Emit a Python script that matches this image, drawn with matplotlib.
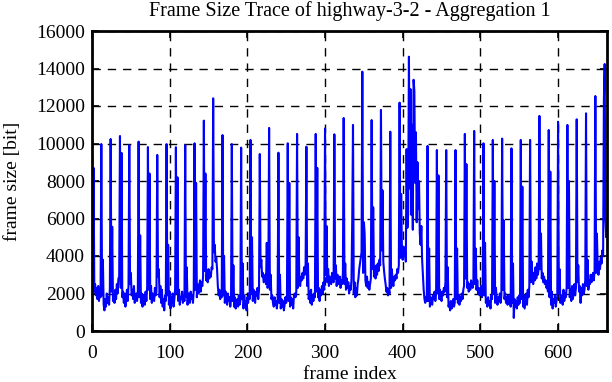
import numpy as np
import matplotlib
matplotlib.use("Agg")
import matplotlib.pyplot as plt

# frame sizes [bit], one row per GOP of 12 frames (I frame first)
seg_000 = [
    9400, 2500, 8700, 2100, 2500, 1900, 2300, 1700, 2400, 1600, 2200, 1800,
    9970, 1900, 3800, 1400, 1100, 1700, 1300, 2000, 1500, 1800, 1400, 2300,
    10240, 2100, 5560, 1600, 1900, 1500, 2200, 1700, 2500, 2000, 2800, 2900,
    10400, 2300, 9500, 1800, 2100, 1500, 2000, 1300, 1700, 2200, 1600, 2400,
    9920, 2500, 3100, 1900, 2200, 1700, 2400, 1500, 1800, 2000, 1600, 2100,
    10100, 1800, 5100, 1500, 2000, 1300, 1700, 1900, 1400, 2100, 1600, 2300,
    9810, 2200, 8400, 1700, 2400, 1500, 2000, 1800, 1600, 2300, 1900, 2100,
    9390, 2900, 3300, 1800, 2400, 1500, 2200, 1300, 1700, 1100, 1900, 1600,
    9970, 1900, 4600, 1400, 2100, 1200, 1800, 1500, 2000, 1300, 1700, 2200,
    9800, 2000, 8200, 1600, 2200, 1400, 1800, 1700, 2100, 1500, 1900, 1600,
]
seg_120 = [
    9920, 1800, 3400, 1400, 2000, 1600, 1500, 2100, 1700, 1900, 1500, 2200,
    10010, 2200, 7900, 1800, 2500, 2000, 2300, 2700, 2100, 2600, 2400, 2900,
    11220, 3200, 8400, 2700, 3000, 2600, 3300, 2800, 3100, 2900, 3400, 3300,
    12410, 4200, 4600, 3700, 3900, 3300, 2400, 1900, 2200, 1700, 2000, 1800,
    10450, 1900, 4000, 1500, 2100, 1700, 1400, 2000, 1600, 1800, 1300, 1700,
    9970, 1600, 3500, 1300, 1800, 1200, 1500, 1700, 1300, 1900, 1400, 1600,
    9780, 1700, 3600, 1200, 1900, 1400, 1600, 1100, 1800, 1500, 2000, 1700,
    10190, 2000, 5000, 1600, 2200, 1800, 1500, 2100, 1900, 2300, 1700, 2200,
    9440, 3400, 3800, 2900, 3100, 2600, 2800, 3000, 2500, 4700, 2300, 2600,
    10830, 2200, 3000, 1700, 1900, 1500, 1300, 1800, 1400, 1600, 1200, 1700,
]
seg_240 = [
    9510, 1500, 3000, 1200, 1700, 1300, 1600, 1100, 1400, 1800, 1500, 1900,
    10010, 1600, 7900, 1300, 1800, 1400, 1700, 1200, 1900, 2000, 1800, 2100,
    10510, 2300, 5000, 2600, 2400, 2900, 2700, 3100, 2800, 3400, 3000, 3600,
    9830, 2400, 3600, 1700, 2100, 1500, 2200, 1400, 1900, 1600, 2000, 1800,
    10510, 2100, 8700, 1800, 2300, 1600, 2200, 1900, 2400, 2000, 2600, 2200,
    10800, 3000, 5600, 2600, 3300, 2400, 2900, 2700, 2500, 3100, 2800, 2600,
    10490, 2800, 3500, 2400, 3000, 2500, 2600, 2900, 2300, 2700, 2500, 3100,
    11360, 2500, 3600, 2200, 2800, 2300, 2600, 2000, 2400, 2200, 2700, 5800,
    10990, 2000, 2600, 1800, 2300, 1900, 2500, 2800, 3300, 3600, 3900, 4200,
    13830, 3100, 5800, 5200, 2700, 2400, 2900, 2300, 2600, 2200, 2500, 2800,
]
seg_360 = [
    11250, 3300, 6600, 2900, 3400, 2800, 3500, 3000, 3600, 3200, 3800, 3500,
    11790, 4300, 7500, 3700, 3200, 2800, 2500, 2100, 2300, 1900, 2200, 2000,
    10630, 2300, 3300, 2600, 2400, 2900, 2700, 3000, 2800, 3300, 3100, 3500,
    12180, 3900, 7300, 4300, 3800, 4500, 4000, 4200, 3700, 9700, 5500, 6200,
    14630, 7600, 12900, 6200, 11000, 5400, 13400, 12800, 7900, 10600, 5800, 9000,
    6500, 8000, 5200, 4600, 5600, 3800, 3000, 2200, 1700, 1500, 1800, 1600,
    9870, 1600, 4400, 1300, 1800, 1500, 1400, 1900, 1700, 2100, 1600, 2000,
    9650, 2000, 8300, 1700, 2200, 1800, 1600, 2100, 1900, 2300, 2100, 2600,
    9650, 1800, 3400, 1300, 1500, 1100, 1600, 1200, 1400, 1700, 1300, 1500,
    9650, 1700, 4400, 1500, 1900, 1400, 1800, 1600, 2000, 1700, 2200, 2400,
]
seg_480 = [
    10510, 2800, 8900, 2300, 2600, 2100, 2500, 2200, 2700, 2400, 2300, 2600,
    10670, 2500, 4400, 2200, 2700, 2000, 2300, 1900, 2100, 2400, 1800, 2200,
    10010, 1900, 4700, 1500, 1700, 1300, 1800, 1400, 1600, 1200, 1900, 1700,
    10190, 2000, 8000, 1500, 2300, 1700, 1400, 1800, 1600, 2000, 1500, 1900,
    10260, 2200, 5900, 1700, 2000, 1500, 1800, 1400, 1900, 1600, 1700, 1300,
    9740, 1500, 3600, 700, 1700, 1300, 1600, 1200, 1800, 1400, 1900, 1500,
    10190, 1700, 7700, 1300, 1900, 1200, 1600, 2000, 1400, 2200, 1800, 2400,
    10190, 2600, 3700, 2900, 2500, 3100, 2700, 3400, 2800, 3600, 3000, 3300,
    11470, 3300, 5200, 2800, 3100, 2600, 2900, 2500, 2700, 2300, 2400, 2100,
    10720, 1800, 8500, 1400, 2100, 1200, 1700, 1500, 1900, 1300, 1600, 1800,
]
seg_600 = [
    11160, 2000, 3300, 1500, 1900, 1700, 1400, 2200, 1600, 2000, 1800, 2300,
    10990, 2300, 8000, 1800, 2200, 1600, 2400, 1700, 2000, 2500, 1900, 2300,
    11290, 2600, 3500, 2100, 2400, 1500, 2300, 1900, 2500, 2000, 2200, 2700,
    11610, 2400, 3800, 2200, 2700, 2500, 3000, 2600, 2800, 3100, 2700, 3200,
    12530, 3100, 5200, 3500, 3000, 3700, 3300, 3900, 3600, 4300, 4000, 12300,
    14240, 5900, 5000, 5500,
]

frame_sizes = np.array(seg_000 + seg_120 + seg_240 + seg_360 + seg_480 + seg_600)
frame_index = np.arange(len(frame_sizes))

xticks = [0, 100, 200, 300, 400, 500, 600]
yticks = [0, 2000, 4000, 6000, 8000, 10000, 12000, 14000, 16000]

plt.rcParams['font.family'] = ['Liberation Serif', 'DejaVu Serif']

fig = plt.figure(figsize=(6.12, 3.82), dpi=100)
ax = fig.add_axes([92 / 612, 51 / 382, 515 / 612, 300 / 382])

ax.plot(frame_index, frame_sizes, color='#0000ff', linewidth=1.5)

ax.set_xlim(0, len(frame_sizes) - 1)
ax.set_ylim(0, 16000)
ax.set_xticks(xticks)
ax.set_yticks(yticks)
ax.tick_params(direction='in', length=5, width=1.2, top=True, right=True,
               labelsize=14)
ax.tick_params(axis='x', pad=10)
ax.tick_params(axis='y', pad=5)
ax.grid(True, color='black', linestyle=(0, (6, 5)), linewidth=1.0)
for spine in ax.spines.values():
    spine.set_linewidth(2)

ax.set_title('Frame Size Trace of highway-3-2 - Aggregation 1', fontsize=14.5, pad=11)
ax.set_xlabel('frame index', fontsize=14, labelpad=3)
ax.set_ylabel('frame size [bit]', fontsize=14, labelpad=11)

fig.savefig('out.png', dpi=100)
